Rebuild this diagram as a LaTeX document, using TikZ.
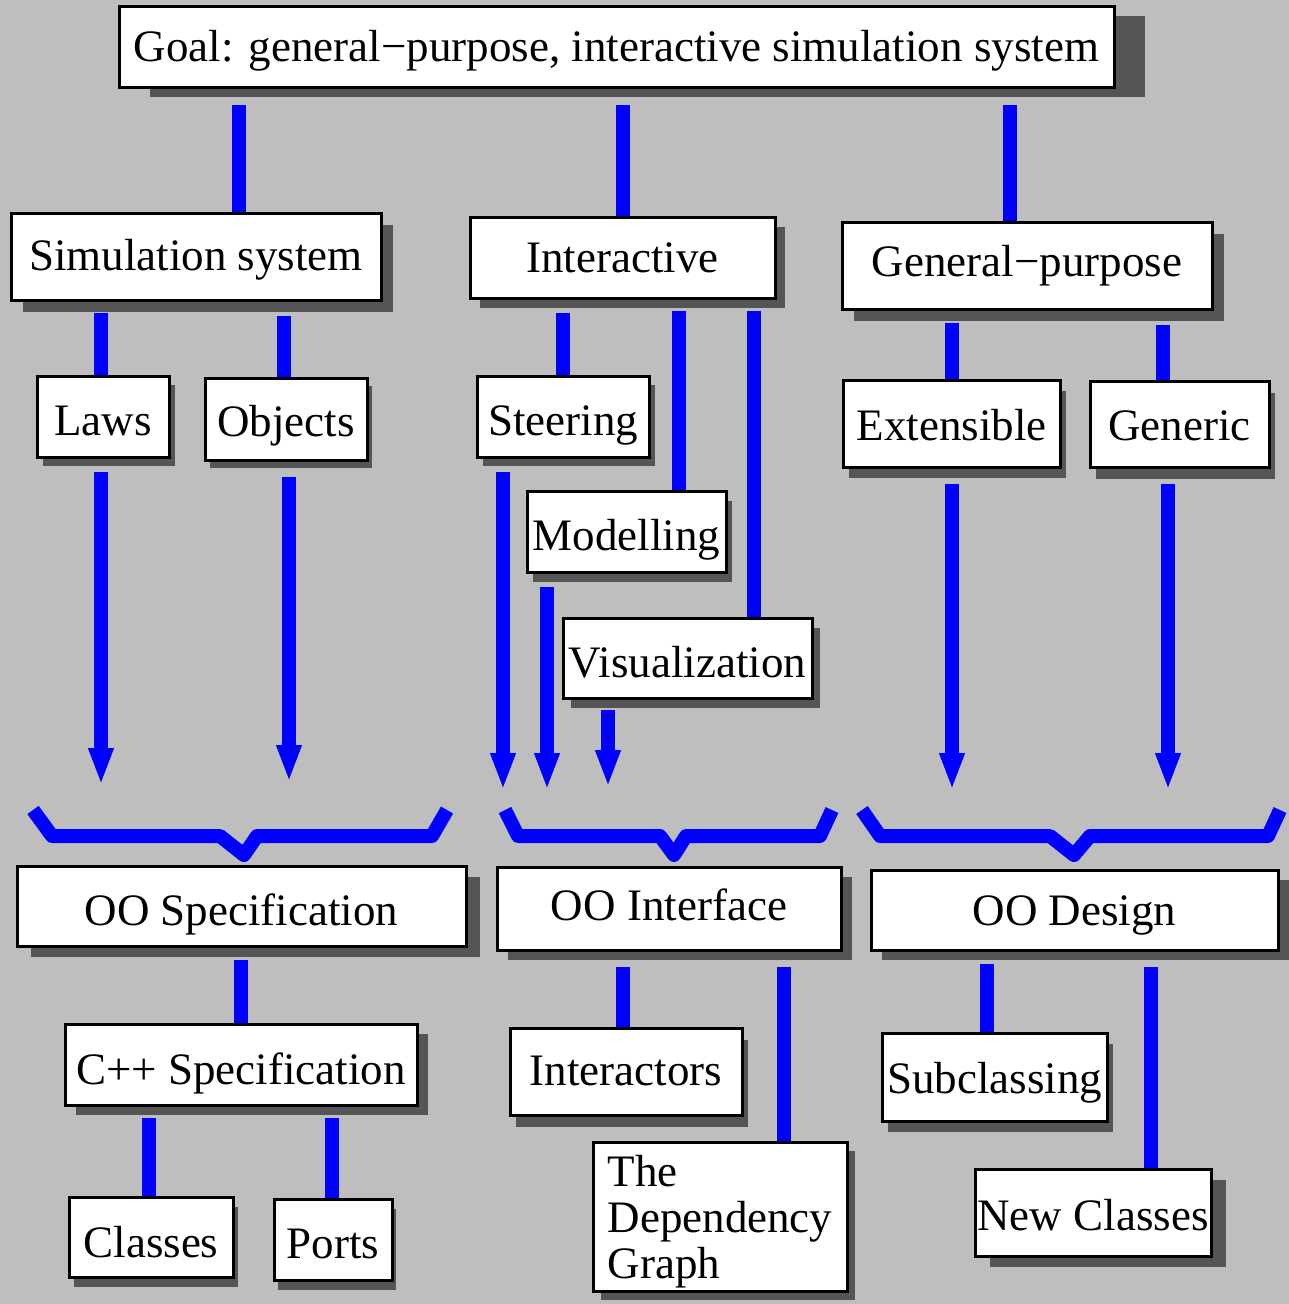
\documentclass[tikz,border=0pt]{standalone}
\usepackage{fontspec}
\setmainfont{Liberation Serif}
\newfontfamily\tmsfont{Liberation Serif}
\usetikzlibrary{shadows,calc,arrows.meta}
\definecolor{bggray}{HTML}{BEBEBE}
\definecolor{shgray}{HTML}{555555}
\newcommand\mylink[4]{%
  \coordinate (lx) at (#3,0);
  \draw[link] ($(#1.south -| lx)+(0,#4)$) -- (#2.north -| lx);}
\newcommand\myarrow[5]{%
  \coordinate (#2) at (#3,#4);
  \draw[arrowlink] ($(#1.south -| #2)+(0,#5)$) -- (#2);}
\begin{document}
\begin{tikzpicture}[x=1pt,y=-1pt,
  box/.style 2 args={draw=black, line width=3pt, fill=white, inner sep=0pt,
    font=\tmsfont\fontsize{45}{46}\selectfont, align=center,
    drop shadow={shadow xshift=#1pt, shadow yshift=-#2pt, fill=shgray, opacity=1, draw=none}},
  bl/.code={\pgfmathsetmacro\myh{30+#1}\pgfmathsetmacro\myd{30-#1}%
    \edef\mytmp{\noexpand\tikzset{text height=\myh pt, text depth=\myd pt}}\mytmp},
  link/.style={draw=blue, line width=14pt},
  arrowlink/.style={draw=blue, line width=14pt, -{Triangle[length=37pt,width=23pt]}},
  brace/.style={draw=blue, line width=14pt, line join=round}]
\fill[bggray] (0,0) rectangle (1289,1304);
\useasboundingbox (0,0) rectangle (1289,1304);

% nodes
\node[box={31}{10}, bl=14.5, minimum width=995pt, minimum height=81pt] (goal) at (616.5,46.5) {Goal: general−purpose, interactive simulation system};
\node[box={12}{12}, bl=13.5, minimum width=370pt, minimum height=87pt] (sim) at (196,256.5) {Simulation system};
\node[box={10}{10}, bl=14.8, minimum width=305pt, minimum height=81pt] (inter) at (622.5,257.5) {Interactive};
\node[box={12}{12}, bl=11.2, minimum width=370pt, minimum height=87pt] (gen) at (1027,265.5) {General−purpose};
\node[box={6}{9}, bl=18.5, minimum width=132pt, minimum height=81pt] (laws) at (103,416.5) {Laws};
\node[box={5}{8}, bl=17.7, minimum width=162pt, minimum height=82pt] (objects) at (286,419) {Objects};
\node[box={6}{9}, bl=19.2, minimum width=172pt, minimum height=81pt] (steer) at (563,416.5) {Steering};
\node[box={6}{10}, bl=18.5, minimum width=199pt, minimum height=81pt] (model) at (626.5,531.5) {Modelling};
\node[box={8}{10}, bl=19.4, minimum width=249pt, minimum height=80pt] (vis) at (687.5,658) {Visualization};
\node[box={6}{11}, bl=17.2, minimum width=217pt, minimum height=87pt] (ext) at (951.5,423.5) {Extensible};
\node[box={6}{12}, bl=16.7, minimum width=179pt, minimum height=86pt] (generic) at (1179.5,424) {Generic};
\node[box={14}{11}, bl=19.7, minimum width=449pt, minimum height=80pt] (oospec) at (241.5,906) {OO Specification};
\node[box={11}{10}, bl=12.2, minimum width=344pt, minimum height=83pt] (oointf) at (669,908.5) {OO Interface};
\node[box={11}{10}, bl=15.7, minimum width=407pt, minimum height=80pt] (oodes) at (1074.5,910) {OO Design};
\node[box={11}{10}, bl=19.5, minimum width=352pt, minimum height=81pt] (cpp) at (241,1064.5) {C++ Specification};
\node[box={6}{12}, bl=14.2, minimum width=232pt, minimum height=87pt] (interactors) at (626,1071.5) {Interactors};
\node[box={6}{11}, bl=16.3, minimum width=225pt, minimum height=88pt] (subcl) at (994.5,1077) {Subclassing};
\node[box={5}{10}, bl=20.4, minimum width=164pt, minimum height=80pt] (classes) at (151,1237) {Classes};
\node[box={4}{10}, bl=19, minimum width=118pt, minimum height=81pt] (ports) at (333,1239.5) {Ports};
\node[box={8}{9}, text height=130pt, text depth=7pt, minimum width=254pt, minimum height=149pt, align=left] (dep) at (720,1216.5) {The\\Dependency\\Graph};
\node[box={15}{11}, bl=18.4, minimum width=236pt, minimum height=87pt] (newcl) at (1093,1212.5) {New Classes};

% links
\mylink{goal}{sim}{239}{16}
\mylink{goal}{inter}{623}{16}
\mylink{goal}{gen}{1010}{16}
\mylink{sim}{laws}{101}{11}
\mylink{sim}{objects}{284}{14}
\mylink{inter}{steer}{563}{13}
\mylink{inter}{model}{679}{11}
\mylink{inter}{vis}{754}{11}
\mylink{gen}{ext}{952}{12}
\mylink{gen}{generic}{1163}{14}
\mylink{oospec}{cpp}{241}{12}
\mylink{cpp}{classes}{149}{11}
\mylink{cpp}{ports}{332}{11}
\mylink{oointf}{interactors}{623}{15}
\mylink{oointf}{dep}{784}{15}
\mylink{oodes}{subcl}{987}{12}
\mylink{oodes}{newcl}{1151}{15}

% arrows
\myarrow{laws}{eLaws}{101}{785}{13}
\myarrow{objects}{eObj}{289}{782}{15}
\myarrow{steer}{eSteer}{503}{790}{13}
\myarrow{model}{eModel}{547}{790}{13}
\myarrow{vis}{eVis}{608}{787}{10}
\myarrow{ext}{eExt}{952}{790}{15}
\myarrow{generic}{eGen}{1168}{790}{15}

% braces
\draw[brace] (33,810) -- (52,836) -- (220,836) -- (244,855) -- (257,836) -- (432,836) -- (447,810);
\draw[brace] (505,810) -- (518,836) -- (660,836) -- (674,855) -- (686,836) -- (820,836) -- (832,810);
\draw[brace] (862,810) -- (880,836) -- (1050,836) -- (1074,855) -- (1090,836) -- (1268,836) -- (1280,810);
\end{tikzpicture}
\end{document}
